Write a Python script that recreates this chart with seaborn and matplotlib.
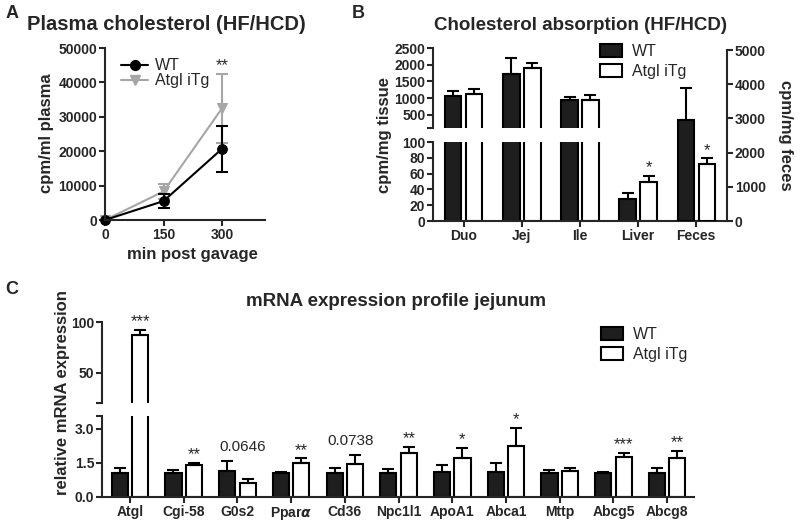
import numpy as np
import pandas as pd
import matplotlib
matplotlib.use("Agg")
import matplotlib.pyplot as plt
import seaborn as sns
from matplotlib.patches import Patch
from matplotlib.lines import Line2D

# ── DATA ──
# A: plasma cholesterol after gavage
time_min = [0, 150, 300]
wt_plasma = [0, 5500, 20700]
wt_plasma_err = [0, 2100, 6700]
itg_plasma = [0, 8300, 32500]
itg_plasma_err = [0, 2200, 10000]

# B: cholesterol absorption (Feces on right axis)
sites = ["Duo", "Jej", "Ile", "Liver", "Feces"]
wt_absorb = [1070, 1730, 950, 28, 2950]
wt_absorb_err = [150, 470, 70, 7, 930]
itg_absorb = [1120, 1900, 930, 49, 1660]
itg_absorb_err = [150, 150, 150, 8, 170]
absorb_marks = ["", "", "", "*", "*"]

# C: mRNA expression jejunum
genes = ["Atgl", "Cgi-58", "G0s2", "Ppar$\\alpha$", "Cd36", "Npc1l1",
         "ApoA1", "Abca1", "Mttp", "Abcg5", "Abcg8"]
wt_mrna = [1.07, 1.04, 1.13, 1.07, 1.07, 1.04, 1.09, 1.09, 1.04, 1.04, 1.07]
wt_mrna_err = [0.20, 0.13, 0.45, 0.03, 0.22, 0.18, 0.33, 0.40, 0.15, 0.04, 0.19]
itg_mrna = [87.0, 1.39, 0.62, 1.50, 1.46, 1.91, 1.71, 2.22, 1.16, 1.75, 1.70]
itg_mrna_err = [5.5, 0.12, 0.18, 0.20, 0.38, 0.29, 0.45, 0.82, 0.12, 0.19, 0.33]
mrna_marks = ["***", "**", "0.0646", "**", "0.0738", "**", "*", "*", "", "***", "**"]

groups = ["WT", "Atgl iTg"]
bar_colors = {"WT": "#1e1e1e", "Atgl iTg": "white"}

# ── STYLE ──
sns.set_theme(style="ticks")
plt.rcParams["font.family"] = ["Liberation Sans", "DejaVu Sans"]
plt.rcParams["font.weight"] = "bold"
plt.rcParams["axes.linewidth"] = 1.5
plt.rcParams["xtick.major.width"] = 1.5
plt.rcParams["ytick.major.width"] = 1.5
plt.rcParams["xtick.major.size"] = 4
plt.rcParams["ytick.major.size"] = 4
plt.rcParams["xtick.labelsize"] = 10
plt.rcParams["ytick.labelsize"] = 10
plt.rcParams["xtick.major.pad"] = 2
plt.rcParams["ytick.major.pad"] = 1.5

W, H = 800, 527
fig = plt.figure(figsize=(8, 5.27), dpi=100)


def px_axes(x0, y0, x1, y1):
    return fig.add_axes([x0 / W, 1 - y1 / H, (x1 - x0) / W, (y1 - y0) / H])


def fig_text(x, y, s, **kw):
    fig.text(x / W, 1 - y / H, s, ha="center", va="center", **kw)


def mark(ax, x, y, text, size=12, dy=2.5):
    ax.annotate(text, xy=(x, y), xytext=(0, dy), textcoords="offset points",
                ha="center", va="baseline", fontsize=size, fontweight="normal",
                annotation_clip=False)


def bars(ax, df, cat, order, width, gap):
    sns.barplot(data=df, x=cat, y="value", hue="group", order=order, hue_order=groups,
                palette=bar_colors, saturation=1, width=width, gap=gap, dodge=True,
                edgecolor="black", linewidth=1.5, errorbar=None, legend=False, ax=ax)
    for k, g in enumerate(groups):
        sub = df[df.group == g].set_index(cat).reindex(order).dropna()
        if len(sub) == 0:
            continue
        xs = [order.index(c) + (k - 0.5) * width / 2 for c in sub.index]
        ax.errorbar(xs, sub["value"], yerr=[np.zeros(len(sub)), sub["err"]], fmt="none",
                    ecolor="black", elinewidth=1.5, capsize=4, capthick=1.5, zorder=1)
    ax.set_xlabel("")
    ax.set_ylabel("")


def bar_legend(x, y):
    fig.legend(handles=[Patch(facecolor=bar_colors[g], edgecolor="black", lw=1.5) for g in groups],
               labels=groups, loc="upper left", bbox_to_anchor=(x / W, 1 - y / H), frameon=False,
               prop={"size": 11.5, "weight": "normal"}, handlelength=1.4, handleheight=0.8,
               handletextpad=0.6, labelspacing=0.32, borderpad=0, borderaxespad=0)


# ── PANEL A ──
ax_a = px_axes(105, 48, 265, 220)
plasma = pd.DataFrame({
    "min": time_min * 2,
    "cpm": wt_plasma + itg_plasma,
    "group": ["WT"] * 3 + ["Atgl iTg"] * 3,
})
line_colors = {"WT": "black", "Atgl iTg": "#a6a6a6"}
ax_a.errorbar(time_min[1:], itg_plasma[1:], yerr=itg_plasma_err[1:], fmt="none",
              ecolor=line_colors["Atgl iTg"], elinewidth=1.5, capsize=4.5, capthick=1.5)
n_before = len(ax_a.lines)
sns.lineplot(data=plasma, x="min", y="cpm", hue="group", style="group", hue_order=groups[::-1],
             markers={"WT": "o", "Atgl iTg": "v"}, dashes=False, palette=line_colors,
             markersize=7, linewidth=1.5, legend=False, ax=ax_a)
for ln in ax_a.lines[n_before:]:
    ln.set_markeredgecolor(ln.get_color())
    ln.set_clip_on(False)
ax_a.errorbar(time_min[1:], wt_plasma[1:], yerr=wt_plasma_err[1:], fmt="none",
              ecolor="black", elinewidth=1.5, capsize=4.5, capthick=1.5)
ax_a.set_xlim(0, 410)
ax_a.set_ylim(0, 50000)
ax_a.set_xticks(time_min)
ax_a.set_yticks(np.arange(0, 50001, 10000))
ax_a.set_xlabel("")
ax_a.set_ylabel("")
sns.despine(ax=ax_a)
mark(ax_a, 300, itg_plasma[2] + itg_plasma_err[2], "**")
ax_a.legend(handles=[Line2D([], [], color="black", marker="o", lw=1.5, ms=7),
                     Line2D([], [], color="#a6a6a6", marker="v", lw=1.5, ms=7)],
            labels=groups, loc="upper left", bbox_to_anchor=(0.1, 0.94), frameon=False,
            prop={"size": 11.5, "weight": "normal"}, handlelength=1.7, handletextpad=0.4,
            labelspacing=0.0, borderpad=0, borderaxespad=0)

fig_text(166, 25, "Plasma cholesterol (HF/HCD)", fontsize=14.5)
fig_text(47, 133, "cpm/ml plasma", fontsize=12, rotation=90)
fig_text(192, 255, "min post gavage", fontsize=12)
fig_text(12, 14, "A", fontsize=13)

# ── PANEL B ──
absorb = pd.DataFrame({
    "site": sites * 2,
    "group": ["WT"] * 5 + ["Atgl iTg"] * 5,
    "value": wt_absorb + itg_absorb,
    "err": wt_absorb_err + itg_absorb_err,
})
tissue = absorb[absorb.site != "Feces"]
feces = absorb[absorb.site == "Feces"]
bw, bgap = 0.72, 0.22
xlim_b = (-0.53, 4.53)

ax_bt = px_axes(433, 48, 727, 128)
ax_bb = px_axes(433, 142, 727, 221)
ax_br = px_axes(433, 50, 727, 221)
ax_br.patch.set_alpha(0)

bars(ax_bt, tissue[tissue.value > 100], "site", sites, bw, bgap)
bars(ax_bb, tissue, "site", sites, bw, bgap)
for ax in (ax_bt, ax_bb):
    ax.set_xlim(*xlim_b)
    sns.despine(ax=ax)
bars(ax_br, feces, "site", sites, bw, bgap)
ax_br.set_xlim(*xlim_b)

ax_bt.set_ylim(100, 2500)
ax_bt.set_yticks([100, 500, 1000, 1500, 2000, 2500])
ax_bt.set_yticklabels(["", "500", "1000", "1500", "2000", "2500"])
ax_bt.spines["bottom"].set_visible(False)
ax_bt.tick_params(axis="x", bottom=False, labelbottom=False)
ax_bb.set_ylim(0, 100)
ax_bb.set_yticks(np.arange(0, 101, 20))
ax_bb.set_xticks(range(len(sites)))
ax_bb.set_xticklabels(sites)

ax_br.set_ylim(0, 5000)
ax_br.set_yticks(np.arange(0, 5001, 1000))
ax_br.yaxis.tick_right()
for s in ("left", "top", "bottom"):
    ax_br.spines[s].set_visible(False)
ax_br.tick_params(axis="x", bottom=False, labelbottom=False)

for i, m in enumerate(absorb_marks):
    if m:
        ax = ax_br if sites[i] == "Feces" else ax_bb
        mark(ax, i + bw / 4, itg_absorb[i] + itg_absorb_err[i], m)

bar_legend(600, 44)
fig_text(580, 25, "Cholesterol absorption (HF/HCD)", fontsize=13.5)
fig_text(385, 135, "cpm/mg tissue", fontsize=12, rotation=90)
fig_text(785, 135, "cpm/mg feces", fontsize=12, rotation=270)
fig_text(358, 14, "B", fontsize=13)

# ── PANEL C ──
mrna = pd.DataFrame({
    "gene": genes * 2,
    "group": ["WT"] * len(genes) + ["Atgl iTg"] * len(genes),
    "value": wt_mrna + itg_mrna,
    "err": wt_mrna_err + itg_mrna_err,
})
cw, cgap = 0.76, 0.21
xlim_c = (-0.52, 10.5)

ax_ct = px_axes(102, 322, 694, 403)
ax_cb = px_axes(102, 416, 694, 497)
bars(ax_ct, mrna[mrna.value > 20], "gene", genes, cw, cgap)
bars(ax_cb, mrna, "gene", genes, cw, cgap)
for ax in (ax_ct, ax_cb):
    ax.set_xlim(*xlim_c)
    sns.despine(ax=ax)

ax_ct.set_ylim(20, 100)
ax_ct.set_yticks([20, 50, 100])
ax_ct.set_yticklabels(["", "50", "100"])
ax_ct.spines["bottom"].set_visible(False)
ax_ct.tick_params(axis="x", bottom=False, labelbottom=False)
ax_cb.set_ylim(0, 3.55)
ax_cb.set_yticks([0, 1.5, 3.0, 3.55])
ax_cb.set_yticklabels(["0.0", "1.5", "3.0", ""])
ax_cb.set_xticks(range(len(genes)))
ax_cb.set_xticklabels(genes)

for i, m in enumerate(mrna_marks):
    if not m:
        continue
    ax = ax_ct if itg_mrna[i] > 20 else ax_cb
    if m.startswith("0."):
        top = max(wt_mrna[i] + wt_mrna_err[i], itg_mrna[i] + itg_mrna_err[i])
        mark(ax, i + 0.1, top, m, size=11, dy=7)
    else:
        mark(ax, i + cw / 4, itg_mrna[i] + itg_mrna_err[i], m)

bar_legend(601, 327)
fig_text(396, 302, "mRNA expression profile jejunum", fontsize=13.5)
fig_text(62, 393, "relative mRNA expression", fontsize=12, rotation=90)
fig_text(12, 290, "C", fontsize=13)

fig.savefig("out.png", dpi=100)
